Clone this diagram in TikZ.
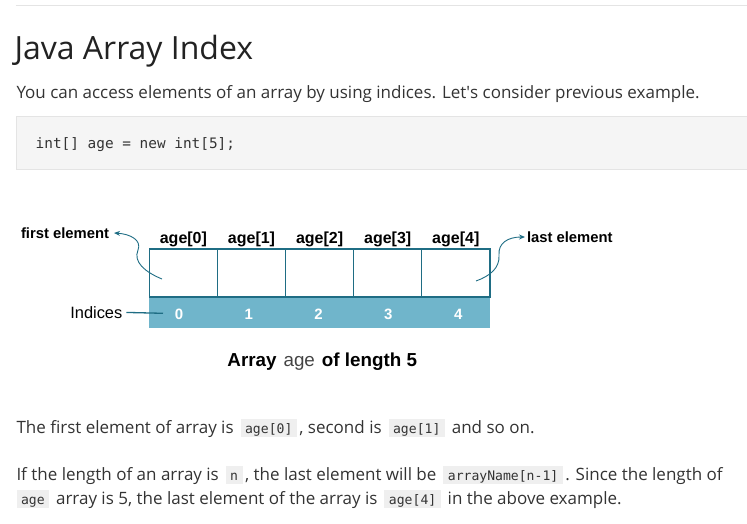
\documentclass[tikz,border=0pt]{standalone}
\usepackage{fontspec}
\setmainfont{Open Sans}
\setmonofont{DejaVu Sans Mono}
\newfontfamily\diagfont{Liberation Sans}
\usetikzlibrary{arrows.meta,positioning}

\definecolor{titlegray}{HTML}{222222}
\definecolor{bodygray}{HTML}{333333}
\definecolor{rulegray}{HTML}{E4E4E4}
\definecolor{codebg}{HTML}{F5F5F5}
\definecolor{codeborder}{HTML}{E4E4E4}
\definecolor{inlinebg}{HTML}{EFEFEF}
\definecolor{cellteal}{HTML}{1F6D84}
\definecolor{barblue}{HTML}{70B5CB}
\definecolor{lightword}{HTML}{444444}

\newcommand\inlinecode[1]{\hspace{2.5pt}{\setlength\fboxsep{0pt}\colorbox{inlinebg}{\rule[-3.5pt]{0pt}{17.5pt}\hspace{4.5pt}\fontsize{13.1}{14}\ttfamily\selectfont #1\hspace{4.5pt}}}\hspace{2.5pt}}

\begin{document}
\begin{tikzpicture}[x=1pt,y=-1pt,
  every node/.style={inner sep=0pt,outer sep=0pt},
  body/.style={anchor=base west,font=\fontsize{17}{20}\selectfont,text=bodygray},
  cell/.style={draw=cellteal,line width=1.3pt,minimum width=68.1pt,minimum height=48pt},
  agelabel/.style={anchor=base,font=\diagfont\bfseries\fontsize{16}{18}\selectfont},
  idxnum/.style={anchor=base,text=white,font=\diagfont\bfseries\fontsize{15}{18}\selectfont},
  pointer/.style={draw=cellteal,line width=0.9pt,-{Stealth[length=6pt,width=5pt]}}]
 \useasboundingbox (0,0) rectangle (747,524);
 % page header
 \draw[rulegray,line width=1pt](15.7,6)--(747,6);
 \node[anchor=base west,text=titlegray,font=\fontsize{32}{36}\selectfont] (title) at (14.5,59.3) {Java Array Index};
 \node[body] (intro) at (16.5,98.3) {You can access elements of an array by using indices. Let\textquotesingle s consider previous example.};
 \draw[fill=codebg,draw=codeborder,line width=1pt](16.5,116.7) rectangle (760,169.3);
 \node[anchor=base west,text=bodygray,font=\ttfamily\fontsize{14.4}{16}\selectfont] (codeline) at (35.7,148.3) {int[] age = new int[5];};
 % the array
 \node[fill=barblue,minimum width=341pt,minimum height=31.3pt] (bar) at (319.8,312.6) {};
 \foreach \i in {0,...,4}{
   \node[cell] (cell\i) at ({183.4+68.1*\i},273) {};
   \node[agelabel] (lbl\i) at ({183.4+68.1*\i},243.3) {age[\i]};
   \node[idxnum] (idx\i) at ({179+69.8*\i},319.3) {\i};
 }
 \node[anchor=base west,font=\diagfont\bfseries\fontsize{14.8}{18}\selectfont] (first) at (21,238.3) {first element};
 \node[anchor=base west,font=\diagfont\bfseries\fontsize{14.8}{18}\selectfont] (last) at (527,242.3) {last element};
 \node[anchor=base east,font=\diagfont\fontsize{16.4}{18}\selectfont] (indices) at (122.3,318.3) {Indices};
 \coordinate (firststart) at (162,279);
 \coordinate (laststart) at (476,281);
 \coordinate (idxend) at (163,313.3);
 \draw[pointer](firststart) .. controls (145,272) and (133,262) .. (138,250)
   .. controls (142,240) and (130,234) .. ([xshift=5pt]first.east);
 \draw[pointer](laststart) .. controls (490,276) and (500,268) .. (499,255)
   .. controls (498,243) and (508,237) .. ([xshift=-2pt]last.west);
 \draw[cellteal,line width=1.3pt]([xshift=4pt]indices.east)--(idxend);
 \node[anchor=base,font=\diagfont\fontsize{18.8}{22}\selectfont] (caption) at (322.2,366.7)
   {\textbf{Array}\hspace{7pt}{\color{lightword}age}\hspace{7pt}\textbf{of length 5}};
 % text below
 \node[body] (line1) at (16.5,433.3) {The first element of array is \inlinecode{age[0]}, second is \inlinecode{age[1]} and so on.};
 \node[body] (line2) at (16.5,480) {If the length of an array is \inlinecode{n}, the last element will be \inlinecode{arrayName[n-1]}. Since the length of};
 \node[body] (line3) at (16.5,504) {\hspace{-2.5pt}\inlinecode{age} array is 5, the last element of the array is \inlinecode{age[4]} in the above example.};
\end{tikzpicture}
\end{document}
